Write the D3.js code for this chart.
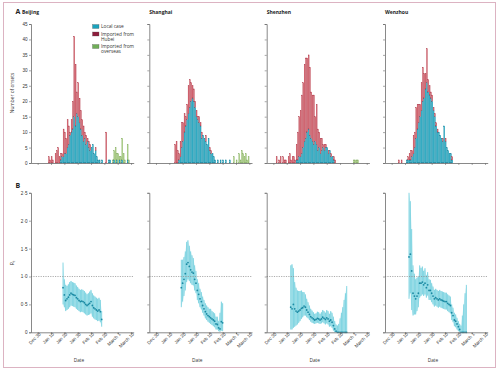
<!DOCTYPE html>
<html><head><meta charset="utf-8">
<script src="https://cdn.jsdelivr.net/npm/d3@7/dist/d3.min.js"></script>
<style>
html,body{margin:0;padding:0;background:#fff;}
svg{display:block;font-family:"Open Sans","Liberation Sans",sans-serif;}
</style></head><body>
<svg id="c" width="499" height="370"></svg>
<script>
// ---------- data ----------
const cities = ["Beijing", "Shanghai", "Shenzhen", "Wenzhou"];
const dayTicks = [0, 10, 20, 30, 40, 50, 60, 70];
const dateLabels = ["Dec 30", "Jan 10", "Jan 20", "Jan 30", "Feb 10", "Feb 20", "March 1", "March 10"];
const onsetTicks = [0, 5, 10, 15, 20, 25, 30, 35, 40, 45];
const rtTicks = [0, 0.5, 1.0, 1.5, 2.0, 2.5];
const legendLabels = [["Local case"], ["Imported from", "Hubei"], ["Imported from", "overseas"]];

// daily onsets (first value = day offset given by *Start, days after Dec 30)
const beijingStart = 8;
const beijingLocal =    [0,0,0,0,0,0,0,0,0,1,2, 2,3,3,5,6,9,10,11,15,12,16,15,13,11,9,7,8,6,7,5,4,5,6,3,4,2,1,1,0,1, 0,0,0,0,1,1,0,0,1,0,1,0,1,0,1,0,0,0,1,0];
const beijingHubei =    [2,1,2,1,0,3,4,5,2,2,1, 9,7,5,9,6,1,4,9,26,20,7,11,8,6,5,5,2,3,1,2,2,0,0,0,1,0,0,0,0,0, 0,0,10,0,0,0,0,0,0,0,0,0,0,0,0,0,0,0,0,0];
const beijingOverseas = [0,0,0,0,0,0,0,0,0,0,0, 0,0,0,0,0,0,0,0,0,0,0,0,0,0,0,0,0,0,0,0,0,0,0,0,0,0,0,0,0,0, 0,0,0,0,0,0,0,1,3,5,2,3,1,2,7,3,1,0,5,1];

const shanghaiStart = 14;
const shanghaiLocal =    [0,0,0,1,2,5,7,10,12,14,16,18,20,21,20,18,15,14,13,12,8,9,8,7,6,8,4,3,3,2,1,0, 1,0,1,0,1,0,1,0,0,1,0,0,0,0,0,0,0,0,0,0,0,0,0,0];
const shanghaiHubei =    [6,7,4,2,5,8,6,6,3,5,9,9,6,4,4,2,2,1,2,1,2,0,0,2,0,0,1,1,0,0,0,0, 0,0,0,0,0,0,0,0,0,0,0,0,0,0,0,0,0,0,0,0,0,0,0,0];
const shanghaiOverseas = [0,0,0,0,0,0,0,0,0,0,0,0,0,0,0,0,0,0,0,0,0,0,0,0,0,0,0,0,0,0,0,0, 0,0,0,0,0,0,0,0,0,0,0,0,2,0,1,0,3,1,4,3,2,3,1,2];

const shenzhenStart = 2;
const shenzhenLocal =    [0,0,0,0,0,0,0,0,0,0,0,0,0,0,0,1,1,2,2,3,5,7,8,10,11,9,8,7,6,7,6,4,5,3,4,5,4,5,5,3,4,2,2,1,0, 0,0,0,0,0,0,0,0,0,0,0,0,0,0,0,0,0];
const shenzhenHubei =    [2,0,1,2,0,2,1,1,0,2,3,1,2,2,1,5,9,13,15,19,21,25,26,24,24,22,15,15,16,8,13,7,5,5,4,1,2,1,0,1,0,1,0,1,1, 0,0,0,0,0,0,0,0,0,0,0,0,0,0,0,0,0];
const shenzhenOverseas = [0,0,0,0,0,0,0,0,0,0,0,0,0,0,0,0,0,0,0,0,0,0,0,0,0,0,0,0,0,0,0,0,0,0,0,0,0,0,0,0,0,0,0,0,0, 0,0,0,0,0,0,0,0,0,0,0,0,0,1,1,1,1];

const wenzhouStart = 5;
const wenzhouLocal =    [0,0,0,0,0,0,1,1,1,1,2,3,5,8,11,13,15,17,20,21,24,26,23,22,21,20,17,15,12,10,10,9,8,7,12,7,5,4,3,3,1,0];
const wenzhouHubei =    [1,0,1,0,0,0,0,1,2,3,2,6,5,10,8,6,4,9,11,8,5,11,4,3,2,2,1,1,1,1,0,0,0,1,0,1,0,0,0,0,1,0];
const wenzhouOverseas = [0,0,0,0,0,0,0,0,0,0,0,0,0,0,0,0,0,0,0,0,0,0,0,0,0,0,0,0,0,0,0,0,0,0,0,0,0,0,0,0,0,0];

// effective reproduction number Rt (mean and 95% interval)
const beijingRtStart = 19;
const beijingRt =   [0.80,0.67,0.57,0.60,0.63,0.67,0.70,0.68,0.67,0.66,0.62,0.60,0.57,0.55,0.56,0.55,0.53,0.50,0.48,0.50,0.52,0.55,0.48,0.44,0.42,0.40,0.38,0.40,0.37,0.23];
const beijingRtLo = [0.50,0.45,0.38,0.40,0.42,0.45,0.48,0.47,0.46,0.45,0.42,0.40,0.38,0.36,0.37,0.36,0.34,0.32,0.30,0.31,0.32,0.34,0.28,0.25,0.23,0.22,0.20,0.21,0.18,0.10];
const beijingRtHi = [1.25,0.95,0.85,0.83,0.86,0.90,0.92,0.90,0.89,0.88,0.84,0.81,0.78,0.76,0.77,0.76,0.74,0.71,0.68,0.70,0.73,0.76,0.70,0.66,0.64,0.62,0.60,0.62,0.58,0.38];

const shanghaiRtStart = 19;
const shanghaiRt =   [0.80,0.88,0.95,1.05,1.22,1.25,1.18,1.12,1.08,1.06,0.95,0.88,0.75,0.68,0.60,0.55,0.48,0.42,0.37,0.33,0.30,0.28,0.26,0.24,0.22,0.20,0.15,0.14,0.08,0.06,0.19,0.17];
const shanghaiRtLo = [0.45,0.55,0.65,0.75,0.90,0.95,0.92,0.88,0.85,0.84,0.75,0.70,0.58,0.52,0.45,0.41,0.35,0.30,0.25,0.22,0.19,0.17,0.15,0.13,0.11,0.09,0.05,0.05,0.02,0.01,0.03,0.02];
const shanghaiRtHi = [1.30,1.30,1.35,1.45,1.62,1.65,1.55,1.45,1.38,1.33,1.20,1.10,0.95,0.88,0.78,0.72,0.64,0.58,0.52,0.48,0.45,0.42,0.42,0.38,0.36,0.34,0.28,0.28,0.20,0.35,0.55,0.52];

const shenzhenRtStart = 13;
const shenzhenRt =   [0.45,0.42,0.50,0.42,0.38,0.36,0.38,0.40,0.43,0.44,0.47,0.45,0.40,0.36,0.32,0.28,0.26,0.24,0.22,0.23,0.25,0.24,0.22,0.24,0.27,0.25,0.23,0.26,0.24,0.20,0.22,0.18,0.12,0.06,0.02,0,0,0,0,0,0,0,0];
const shenzhenRtLo = [0.05,0.05,0.08,0.10,0.12,0.14,0.17,0.20,0.24,0.27,0.30,0.30,0.27,0.25,0.22,0.19,0.17,0.16,0.15,0.16,0.17,0.16,0.15,0.16,0.18,0.16,0.14,0.16,0.14,0.10,0.11,0.08,0.03,0,0,0,0,0,0,0,0,0,0];
const shenzhenRtHi = [1.20,1.22,1.15,0.90,0.80,0.75,0.74,0.74,0.75,0.72,0.72,0.68,0.60,0.54,0.48,0.42,0.39,0.36,0.33,0.34,0.37,0.36,0.33,0.36,0.40,0.38,0.35,0.40,0.38,0.33,0.38,0.35,0.28,0.20,0.14,0.12,0.15,0.25,0.35,0.45,0.58,0.70,0.83];

const wenzhouRtStart = 13;
const wenzhouRt =   [1.35,1.40,1.10,0.70,0.65,0.60,0.65,0.70,0.88,0.88,0.90,0.85,0.88,0.80,0.85,0.75,0.75,0.70,0.65,0.60,0.62,0.60,0.58,0.60,0.58,0.57,0.56,0.55,0.55,0.52,0.50,0.48,0.35,0.30,0.22,0.20,0.15,0.10,0.05,0,0,0,0,0];
const wenzhouRtLo = [0.60,0.70,0.40,0.30,0.32,0.32,0.38,0.45,0.62,0.65,0.68,0.65,0.68,0.62,0.66,0.58,0.58,0.54,0.50,0.46,0.48,0.46,0.44,0.46,0.44,0.43,0.42,0.41,0.41,0.38,0.36,0.34,0.22,0.18,0.11,0.09,0.05,0.02,0,0,0,0,0,0];
const wenzhouRtHi = [2.50,2.35,1.85,1.20,1.05,0.95,0.98,1.00,1.20,1.15,1.18,1.10,1.15,1.02,1.08,0.95,0.94,0.88,0.82,0.76,0.78,0.76,0.74,0.76,0.74,0.73,0.72,0.71,0.71,0.68,0.66,0.64,0.50,0.44,0.35,0.32,0.26,0.20,0.15,0.12,0.30,0.50,0.70,0.85];

// ---------- assemble ----------
const onsetSets = [
  [beijingStart, beijingLocal, beijingHubei, beijingOverseas],
  [shanghaiStart, shanghaiLocal, shanghaiHubei, shanghaiOverseas],
  [shenzhenStart, shenzhenLocal, shenzhenHubei, shenzhenOverseas],
  [wenzhouStart, wenzhouLocal, wenzhouHubei, wenzhouOverseas]
];
const rtSets = [
  [beijingRtStart, beijingRt, beijingRtLo, beijingRtHi],
  [shanghaiRtStart, shanghaiRt, shanghaiRtLo, shanghaiRtHi],
  [shenzhenRtStart, shenzhenRt, shenzhenRtLo, shenzhenRtHi],
  [wenzhouRtStart, wenzhouRt, wenzhouRtLo, wenzhouRtHi]
];

const fills = ["#2bb8cf", "#d9646f", "#aed184"];
const strokes = ["#1a7f9a", "#b04252", "#82ab62"];
const swatch = ["#1aa3bd", "#8e1d3c", "#6fae57"];
const axisCol = "#6b6b6b";
const textCol = "#333";

const svg = d3.select("#c");
// frame
svg.append("rect").attr("x", 3.5).attr("y", 2.5).attr("width", 492).attr("height", 365)
  .attr("fill", "none").attr("stroke", "#dcb3c2").attr("stroke-width", 1);

const axisX = [31, 149.3, 266.7, 385];
const pw = 102.7;
const yA = d3.scaleLinear().domain([0, 45]).range([163, 24]);
const yB = d3.scaleLinear().domain([0, 2.5]).range([332.3, 192.8]);

function styleAxis(g) {
  g.select(".domain").attr("stroke", axisCol).attr("stroke-width", 0.8);
  g.selectAll(".tick line").attr("stroke", axisCol).attr("stroke-width", 0.6);
  g.selectAll(".tick text").attr("fill", textCol).attr("font-size", 4.6);
}

cities.forEach((city, ci) => {
  const x0 = axisX[ci];
  const x = d3.scaleLinear().domain([-5, 72]).range([x0, x0 + pw]);
  const bw = x(1) - x(0);

  // ----- panel A: stacked bars -----
  const [st, loc, hub, ovs] = onsetSets[ci];
  const gA = svg.append("g");
  loc.forEach((v, i) => {
    const d = st + i;
    const parts = [v, hub[i], ovs[i]];
    let base = 0;
    parts.forEach((p, k) => {
      if (p > 0) {
        gA.append("rect")
          .attr("x", x(d) + 0.1).attr("width", bw - 0.35)
          .attr("y", yA(base + p)).attr("height", yA(base) - yA(base + p))
          .attr("fill", fills[k]).attr("stroke", strokes[k]).attr("stroke-width", 0.3);
      }
      base += p;
    });
  });

  const axA = svg.append("g").attr("transform", `translate(${x0},0)`)
    .call(d3.axisLeft(yA).tickValues(onsetTicks).tickSize(2).tickPadding(1.5)
      .tickFormat(ci === 0 ? d3.format("d") : ""));
  styleAxis(axA);
  const axAx = svg.append("g").attr("transform", `translate(0,${yA(0)})`)
    .call(d3.axisBottom(x).tickValues(dayTicks).tickSize(2).tickSizeOuter(0).tickFormat(""));
  styleAxis(axAx);

  svg.append("text").attr("x", ci === 0 ? 22 : x0).attr("y", 13.5)
    .attr("font-size", 5).attr("font-weight", "bold").attr("fill", "#222").text(city);

  // ----- panel B: Rt -----
  const [rs, rm, rl, rh] = rtSets[ci];
  const rtData = rm.map((m, i) => ({ d: rs + i, m, lo: rl[i], hi: rh[i] }));
  svg.append("path").datum(rtData)
    .attr("d", d3.area().x(p => x(p.d)).y0(p => yB(p.lo)).y1(p => yB(p.hi)))
    .attr("fill", "#cdeef3").attr("stroke", "none");
  svg.append("g").selectAll("line").data(rtData).join("line")
    .attr("x1", p => x(p.d)).attr("x2", p => x(p.d))
    .attr("y1", p => yB(p.lo)).attr("y2", p => yB(p.hi))
    .attr("stroke", "#4cc2d5").attr("stroke-width", 0.65);
  svg.append("line").attr("x1", x0).attr("x2", x0 + pw)
    .attr("y1", yB(1)).attr("y2", yB(1))
    .attr("stroke", "#8a8a8a").attr("stroke-width", 0.7).attr("stroke-dasharray", "1.2,1.2");
  svg.append("g").selectAll("circle").data(rtData).join("circle")
    .attr("cx", p => x(p.d)).attr("cy", p => yB(p.m)).attr("r", 0.9)
    .attr("fill", "#1b8aa3");

  const axB = svg.append("g").attr("transform", `translate(${x0},0)`)
    .call(d3.axisLeft(yB).tickValues(rtTicks).tickSize(2).tickPadding(1.5)
      .tickFormat(ci === 0 ? (v => (v === 0 ? "0" : d3.format(".1f")(v).replace(".", "·"))) : ""));
  styleAxis(axB);
  const axBx = svg.append("g").attr("transform", `translate(0,${yB(0)})`)
    .call(d3.axisBottom(x).tickValues(dayTicks).tickSize(2).tickSizeOuter(0)
      .tickFormat((v, i) => dateLabels[i]));
  styleAxis(axBx);
  axBx.selectAll(".tick text")
    .attr("text-anchor", "end").attr("dy", 0).attr("y", 3.5).attr("x", 0.5)
    .attr("transform", "rotate(-45)");

  svg.append("text").attr("x", x0 + 48).attr("y", 362)
    .attr("text-anchor", "middle").attr("font-size", 4.8).attr("fill", textCol).text("Date");
});

// panel letters
svg.append("text").attr("x", 15.5).attr("y", 14).attr("font-size", 7).attr("font-weight", "bold").attr("fill", "#222").text("A");
svg.append("text").attr("x", 15.5).attr("y", 188).attr("font-size", 7).attr("font-weight", "bold").attr("fill", "#222").text("B");

// y labels
svg.append("text").attr("transform", "translate(13.5,93) rotate(-90)")
  .attr("text-anchor", "middle").attr("font-size", 4.8).attr("fill", textCol).text("Number of onsets");
const rtLab = svg.append("text").attr("transform", "translate(13.5,263) rotate(-90)")
  .attr("text-anchor", "middle").attr("font-size", 5.2).attr("fill", textCol);
rtLab.append("tspan").text("R");
rtLab.append("tspan").attr("font-size", 3.6).attr("dy", 1.2).text("t");

// legend
const lg = svg.append("g");
let ly = 24.5;
legendLabels.forEach((lines, k) => {
  lg.append("rect").attr("x", 92.5).attr("y", ly).attr("width", 6.5).attr("height", 4)
    .attr("fill", swatch[k]).attr("stroke", "#555").attr("stroke-width", 0.3);
  lines.forEach((t, j) => {
    lg.append("text").attr("x", 101).attr("y", ly + 3.8 + j * 5)
      .attr("font-size", 4.8).attr("fill", textCol).text(t);
  });
  ly += lines.length * 5 + 2.5;
});
</script>
</body></html>
